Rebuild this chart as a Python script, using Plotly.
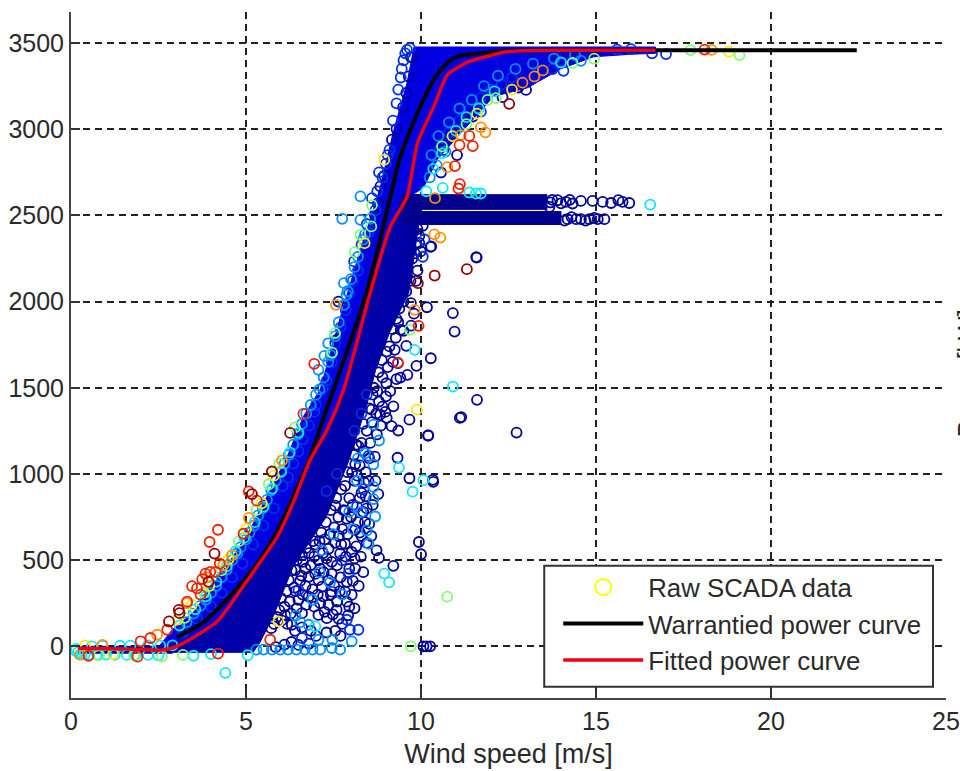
import plotly.graph_objects as go

# Warrantied and fitted power curves (wind speed m/s, power kW)
black_x = [3.03,3.78,4.46,4.92,5.4,5.89,6.35,6.84,7.2,7.5,8.07,8.47,8.92,9.41,9.9,10.36,10.6,10.93,11.2,11.7,12.5,14,18,22.45]
black_p = [52,139,272,377,504,666,869,1101,1315,1489,1819,2068,2433,2839,3094,3285,3352,3412,3430,3441,3455,3458,3458,3458]
red_x = [0.2,1,2,2.6,3.03,3.5,4.18,4.92,5.4,5.9,6.35,6.84,7.32,7.79,8.55,9.12,9.6,9.9,10.36,10.75,11.33,11.7,12.36,12.84,14,16.7]
red_p = [-12,-14,-18,-22,0,52,145,348,487,637,834,1083,1257,1489,2051,2433,2607,2920,3128,3314,3389,3412,3447,3455,3458,3458]

# Saturated regions of the raw cloud, outlined
blue_x = [2.5,2.9,3.5,4.18,4.63,5.12,5.6,6.18,6.64,7.12,7.7,8.27,8.84,9.2,9.6,9.8,12,14.5,16.7,16.7,16,14.93,13.99,13.04,12.07,11.5,10.93,10.47,10.07,9.6,9.12,8.55,7.79,7.32,6.84,6.35,5.9,5.4,4.92,4.18,3.5,2.6]
blue_p = [-5,98,197,388,521,678,869,1101,1333,1489,1912,2300,2665,2978,3268,3477,3477,3477,3477,3440,3435,3420,3350,3240,3190,3060,2930,2825,2660,2600,2433,2051,1489,1257,1083,834,637,487,348,145,52,-30]
navy_x = [2.6,3.5,4.18,4.92,5.4,5.9,6.35,6.84,7.32,7.79,8.55,9.12,9.45,10.0,9.9,9.65,9.1,8.7,8.45,7.95,7.3,6.35,5.78,5.4,5.2,2.6]
navy_p = [-10,52,145,348,487,637,834,1083,1257,1489,2051,2433,2620,2620,2398,2051,1819,1600,1400,1083,753,463,174,23,-35,-35]
band1_x = [9.45,13.6,13.6,9.45]
band1_p = [2620,2620,2535,2535]
band2_x = [9.45,14.0,14.0,9.45]
band2_p = [2522,2522,2447,2447]
low_x = [0.2,2.9,2.9,0.2]
low_p = [0,0,-40,-40]

# Scattered raw SCADA points by density colour (wind speed, power)
navy_pts = [
(9.21,1392),(11.11,1325),(9.67,1315),(10.21,1223),(9.33,1094),(9.67,975),(10.35,954),(9.94,605),(10.0,534),(9.21,467),
(10.07,0),(10.16,0),(10.26,0),(8.83,1344),(9.02,1325),(9.16,1277),(9.35,1252),(8.59,1373),(8.74,1229),(8.36,1133),
(8.12,1056),(8.03,1008),(7.83,931),(8.78,883),(7.55,816),(7.83,787),(7.64,749),(8.12,676),(8.52,710),(8.73,557),
(8.8,513),(7.83,595),(8.02,547),(8.12,451),(7.69,538),(7.36,566),(7.07,499),(7.45,490),(7.88,374),(7.36,384),
(7.07,384),(6.79,403),(6.6,528),(6.41,442),(6.22,384),(6.79,288),(7.17,346),(7.45,317),(7.83,317),(8.02,298),
(7.88,259),(7.59,211),(7.36,240),(7.07,182),(7.31,163),(6.6,192),(6.31,125),(5.5,816),(9.74,3419),(9.65,3306),
(9.58,3210),(9.49,3128),(9.3,3001),(9.17,2939),(8.95,2730),(8.84,2668),(8.77,2571),(8.68,2503),(7.64,2000),(7.59,1778),
(10.29,2320),(9.99,2291),(11.58,2258),(10.17,1967),(9.71,1991),(10.91,1933),(10.96,1826),(9.42,1836),(9.58,1743),(9.25,1720),
(10.28,1671),(9.87,1627),(9.61,1575),(9.41,1559),(9.01,1526),(11.6,1430),(11.15,1330),(12.73,1240),(10.2,1223),(10.34,966),
(9.71,3419),(13.0,3228),(12.78,3242),(12.33,3186),(11.48,3073),(10.64,2879),(11.03,2850),(10.57,2749),(10.27,2317),(11.59,2255),
(13.67,2549),(13.9,2588),(14.14,2578),(14.33,2569),(14.57,2584),(14.9,2584),(15.19,2578),(15.43,2572),(15.64,2588),(15.76,2578),
(15.95,2572),(13.75,2590),(13.7,2575),(14.0,2570),(14.25,2590),(14.19,2478),(14.43,2478),(14.57,2478),(14.81,2478),(15.05,2478),
(15.24,2478),(14.1,2470),(14.3,2490),(14.7,2470),(14.95,2485),
(8.65,1500),(8.8,1420),(8.6,1300),(8.45,1250),(8.3,1180),(8.25,1050),(8.1,960),(7.95,860),(8.0,750),(7.75,680),
(7.65,640),(7.55,600),(7.25,620),(7.1,610),(6.95,520),(6.85,470),(6.7,450),(6.55,380),(6.5,270),(6.25,260),
(6.1,230),(5.95,210),(6.9,330),(7.2,290),(7.6,260),(7.7,400),(7.95,450),(8.15,580),(8.3,640),(8.45,800),
(9.3,1900),(9.5,2000),(9.6,2150),(9.75,2250),(9.2,1650),(9.05,1620),(9.0,1450),(8.9,1390),(9.85,2330),(9.9,2180),
(8.22,1160),(8.08,1110),(7.9,1010),(7.72,910),(7.58,860),(7.42,790),(7.28,720),(7.15,660),(6.98,590),(6.8,540),
(6.63,490),(6.45,500),(6.3,440),(6.15,320),(6.0,280),(5.88,170),(5.8,130),(5.72,105),(6.02,150),(6.12,180),
(6.38,340),(6.62,300),(6.7,350),(6.98,420),(7.05,300),(7.12,250),(7.22,430),(7.3,510),(7.45,420),(7.52,350),
(7.6,470),(7.68,320),(7.72,590),(7.85,520),(7.9,650),(7.95,230),(8.05,380),(8.1,510),(8.2,720),(8.25,860),
(8.38,950),(8.42,1010),(8.52,1090),(8.18,990),(8.3,890),(8.42,870),(8.05,820),(7.88,740),(7.78,790),(7.52,690),
(7.4,650),(7.2,540),(6.92,610),(6.72,570),(6.58,410),(6.42,320),(6.28,190),(6.45,220),(6.72,240),(6.95,230),
(7.25,200),(7.48,185),(7.65,160),(7.75,130),(7.92,180),(8.1,220),(7.42,300),(7.12,450),(8.22,350),(8.35,430),
(8.28,520),(8.45,600),(8.58,640),(8.62,820),(8.7,960),(8.55,1180),(8.72,1350),(8.75,1480),(8.9,1560),(9.1,1740),
(9.28,1790),(9.38,1960),(9.45,2100),(9.55,2250),(9.7,2370),(9.8,2410),(9.9,2420),(10.05,2440),(9.95,2380),(9.86,2120),
(9.8,1930),(9.72,1860),(9.5,1830),(9.3,1550),(9.12,1480),(8.98,1360),(8.85,1280),(8.68,1100),(8.5,960),(8.35,780),
(8.25,660),(8.4,720),(6.18,130),(6.4,90),(6.6,110),(6.85,90),(7.0,60),(7.3,80),(7.55,90),(7.7,60),
(5.85,-5),(6.1,10),(6.3,25),(6.5,8),(6.8,15),
(9.02,1710),(9.18,1840),(9.35,1880),(9.58,2060),(9.7,2120),(9.82,2280),(9.95,2340),(8.88,1660),(8.78,1590),(8.62,1460),
(8.52,1380),(8.35,1290),(8.15,1170),
]
blue_pts = [
(8.5,1104),(8.36,912),(8.17,810),(7.74,499),(7.93,422),(6.5,326),(7.88,154),(8.21,96),(7.97,96),(6.6,48),
(8.09,2233),(9.34,1642),(11.71,3102),(14.07,3339),(13.76,3349),(17.0,3436),(15.6,3462),(16.0,3465),(16.6,3440),(8.8,2750),
(8.6,2600),(8.45,2450),(8.2,2180),(7.95,2050),(7.7,1850),(7.45,1650),(7.3,1540),(7.0,1400),(6.8,1280),(6.5,1130),
(6.2,980),(9.3,3150),(9.45,3350),(9.55,3440),(9.6,3460),(9.68,3470),(9.1,2880),(9.0,2800),(8.9,2720),(8.7,2530),
(10.1,2360),(10.05,2260),(12.6,3300),(12.3,3260),(12.0,3230),(11.7,3180),(11.4,3120),(11.1,3050),(10.8,2980),(10.55,2890),
(9.2,3050),(9.35,3230),(9.42,3300),(9.5,3400),(9.05,2850),(8.75,2640),(8.5,2400),(8.3,2330),(8.05,2120),(7.85,1950),
(7.55,1760),(7.2,1500),(6.95,1360),(6.62,1200),(6.35,1060),(6.05,930),(5.8,800),(5.5,700),(5.2,590),(4.9,480),
(4.6,400),(4.3,310),(4.0,230),(3.6,160),(3.2,80),(7.3,900),(7.6,1000),(8.1,1250),(8.3,1350),(8.45,1460),
]
azure_pts = [
(8.27,2610),(7.75,2480),(8.27,2474),(7.8,2107),(7.87,2039),(7.35,1758),(7.24,1685),(7.07,1604),(8.8,1194),(8.64,1286),
(8.64,1056),(8.17,960),(8.64,925),(8.64,854),(8.29,778),(8.69,753),(8.45,672),(8.5,595),(7.17,557),(6.79,125),
(6.41,177),(8.02,29),(7.07,38),(7.47,38),(7.45,-10),(7.69,-19),(5.74,-19),(5.98,-19),(6.2,-19),(6.44,-19),
(6.68,-19),(6.9,-19),(7.12,-19),(5.5,-19),(5.3,-19),(14.57,3397),
(3.3,140),(3.7,235),(4.0,310),(4.3,400),(4.6,500),(4.85,575),(5.1,660),(5.35,760),(5.6,850),(5.85,960),
(6.1,1060),(6.35,1170),(6.6,1290),(6.85,1400),(7.1,1490),(7.35,1650),(7.55,1800),(7.8,1980),(8.0,2130),(8.2,2260),
(8.4,2390),(8.55,2480),(10.3,2850),(10.5,2960),(10.8,3040),(11.1,3120),(11.45,3170),(11.8,3250),(12.2,3310),(12.7,3350),
(13.2,3380),(13.8,3410),(14.4,3430),(10.25,2720),(10.45,2790),(10.7,2870),
(7.95,780),(7.5,650),(7.1,430),(7.4,370),(6.9,270),(8.05,680),(8.2,1090),(7.75,300),(8.4,1120),(6.55,140),
(3.5,190),(3.85,270),(4.15,350),(4.45,445),(4.75,540),(5.0,620),(5.22,700),(5.48,800),(5.72,905),(6.0,1010),
(6.22,1110),(6.48,1230),(6.72,1350),(7.0,1460),(7.22,1560),(7.42,1690),(7.65,1880),(7.9,2060),(8.1,2200),(8.35,2360),
]
cyan_pts = [
(9.37,1037),(10.07,964),(9.76,897),(8.95,422),(9.09,371),(6.98,115),(4.41,-154),(9.82,1720),(10.91,1507),(10.62,2660),
(11.38,2633),(11.71,2627),(11.57,2627),(14.0,3387),(16.55,2563),(0.15,-15),(0.2,-35),(0.3,-48),(0.5,-50),(1.0,-48),
(1.6,-50),(2.2,-50),(0.6,0),(1.4,3),(2.2,5),(2.9,5),(3.5,-55),(4.0,-45),(5.05,-52),
(3.1,120),(3.55,215),(3.85,290),(4.15,375),(4.45,465),(4.7,550),(4.95,630),(5.25,720),(5.5,810),(5.75,915),
(6.0,1015),(6.25,1125),(6.5,1240),(10.35,2770),(10.6,2860),(11.0,2990),(11.3,3070),(11.65,3120),(12.1,3220),(10.15,2640),
(0.12,-25),(0.4,-45),(0.75,-48),(1.25,-50),(1.85,-50),(2.5,-52),(0.9,2),(1.7,4),(2.55,4),
]
green_pts = [
(10.75,288),(9.71,0),(8.58,2436),(8.27,2387),(8.11,2287),(7.54,1817),(7.46,1704),(9.68,1836),(12.14,3180),(14.33,3384),
(14.95,3409),(17.7,3459),(19.1,3430),(0.8,-52),(1.8,-52),(2.6,-58),(3.2,-50),
(3.25,165),(3.8,310),(4.3,440),(4.8,610),(5.3,790),(5.65,940),(5.95,1060),(6.4,1270),(8.6,2560),(10.6,2900),(11.3,3030),(11.9,3170),
]
yellow_pts = [
(8.95,2823),(8.39,2339),(9.88,1373),(5.93,144),(18.8,3450),(1.2,-45),(0.4,5),
(3.05,155),(3.45,240),(3.95,350),(4.5,505),(5.0,680),(5.45,830),(5.8,990),(10.9,2960),(11.6,3090),(12.6,3230),
]
orange_pts = [
(6.03,1079),(5.08,745),(4.6,528),(2.46,67),(7.57,1981),(9.82,1952),(11.84,2982),(11.71,3011),(11.14,2966),(13.48,3341),
(13.24,3306),(10.55,2371),(10.38,2390),(18.3,3460),(0.9,8),(0.25,-48),(10.4,2600),(10.75,2780),(12.9,3270),(3.3,250),(3.9,400),(4.35,470),
]
red_pts = [
(6.64,1348),(5.08,899),(5.31,845),(4.2,676),(3.96,605),(3.84,422),(3.98,432),(4.13,432),(3.46,349),(3.6,336),
(3.32,259),(2.75,96),(2.27,48),(1.99,29),(4.93,653),(9.93,1859),(9.34,1646),(6.95,1639),(11.48,2902),(11.38,2961),
(11.1,2908),(10.97,2786),(11.11,2681),(11.07,2656),(18.1,3462),(0.5,-55),(1.9,-60),(4.2,-42),(5.69,38),(3.7,300),(3.75,390),(4.25,480),
]
darkred_pts = [
(6.26,1238),(5.74,1014),(5.17,883),(4.1,538),(3.93,374),(3.08,211),(3.1,192),(2.8,144),(9.91,2107),(10.39,2151),
(11.31,2188),(12.52,3147),
]

wind_ticks = [0,5,10,15,20,25]
power_ticks = [0,500,1000,1500,2000,2500,3000,3500]

fig = go.Figure()
for xs, ps, col in [(blue_x, blue_p, "#0000e0"), (low_x, low_p, "#0000a8"), (navy_x, navy_p, "#0000a8"),
                    (band1_x, band1_p, "#00008c"), (band2_x, band2_p, "#00008c")]:
    fig.add_trace(go.Scatter(x=xs, y=ps, mode="lines", fill="toself", fillcolor=col, line=dict(color=col, width=1),
                             showlegend=False, hoverinfo="skip"))
for pts, col in [(navy_pts, "#00009a"), (blue_pts, "#0030e8"), (azure_pts, "#0090ff"), (cyan_pts, "#10e8ff"),
                 (green_pts, "#80ff70"), (yellow_pts, "#ffe800"), (orange_pts, "#ff9000"), (red_pts, "#f02000"),
                 (darkred_pts, "#900000")]:
    fig.add_trace(go.Scatter(x=[p[0] for p in pts], y=[p[1] for p in pts], mode="markers", showlegend=False,
                             marker=dict(symbol="circle-open", size=10, color=col, line=dict(width=1.8, color=col))))
fig.add_trace(go.Scatter(x=[None], y=[None], mode="markers", name="Raw SCADA data",
                         marker=dict(symbol="circle-open", size=17, color="#ffff00", line=dict(width=2, color="#ffff00"))))
fig.add_trace(go.Scatter(x=black_x, y=black_p, mode="lines", line_shape="spline", line_smoothing=0.6,
                         name="Warrantied power curve", line=dict(color="black", width=4)))
fig.add_trace(go.Scatter(x=red_x, y=red_p, mode="lines", line_shape="spline", line_smoothing=0.6,
                         name="Fitted power curve", line=dict(color="#f00010", width=3.5)))

fig.add_annotation(text="Power [kW]", xref="paper", yref="paper", x=1.0, y=0.4735, xshift=37,
                   textangle=-90, showarrow=False, font=dict(size=25, color="#222"))

PLOT_W, PLOT_H = 875.5, 686.3
fig.add_shape(type="rect", xref="paper", yref="paper", layer="above",
              x0=(544-70.5)/PLOT_W, x1=(933-70.5)/PLOT_W, y0=(698.3-687)/PLOT_H, y1=(698.3-566)/PLOT_H,
              fillcolor="white", line=dict(color="#333", width=2))

axis = dict(showline=True, linecolor="#444", linewidth=2, ticks="inside", ticklen=9, tickcolor="#333", tickwidth=1.5,
            showgrid=True, gridcolor="#222", griddash="7px,5px", gridwidth=1.5, zeroline=False,
            tickfont=dict(size=25, color="#2a2a2a"))
fig.update_xaxes(axis, range=[0, 25], tickvals=wind_ticks,
                 title=dict(text="Wind speed [m/s]", font=dict(size=27, color="#2a2a2a"), standoff=10))
fig.update_yaxes(axis, range=[-300, 3680], tickvals=power_ticks)
fig.update_layout(
    width=960, height=771, margin=dict(l=70.5, r=14, t=12, b=72.7, autoexpand=False),
    paper_bgcolor="white", plot_bgcolor="white",
    font=dict(family="Liberation Sans, Arial, sans-serif"),
    legend=dict(x=(558-70.5)/PLOT_W, y=(698.3-564)/PLOT_H, xanchor="left", yanchor="top", bgcolor="rgba(0,0,0,0)",
                borderwidth=0, font=dict(size=25.8, color="#2a2a2a"), itemwidth=80, traceorder="normal"),
)
fig.write_html("out.html", config=dict(displayModeBar=False),
               post_script="document.body.style.margin='0';window.dispatchEvent(new Event('resize'));")
